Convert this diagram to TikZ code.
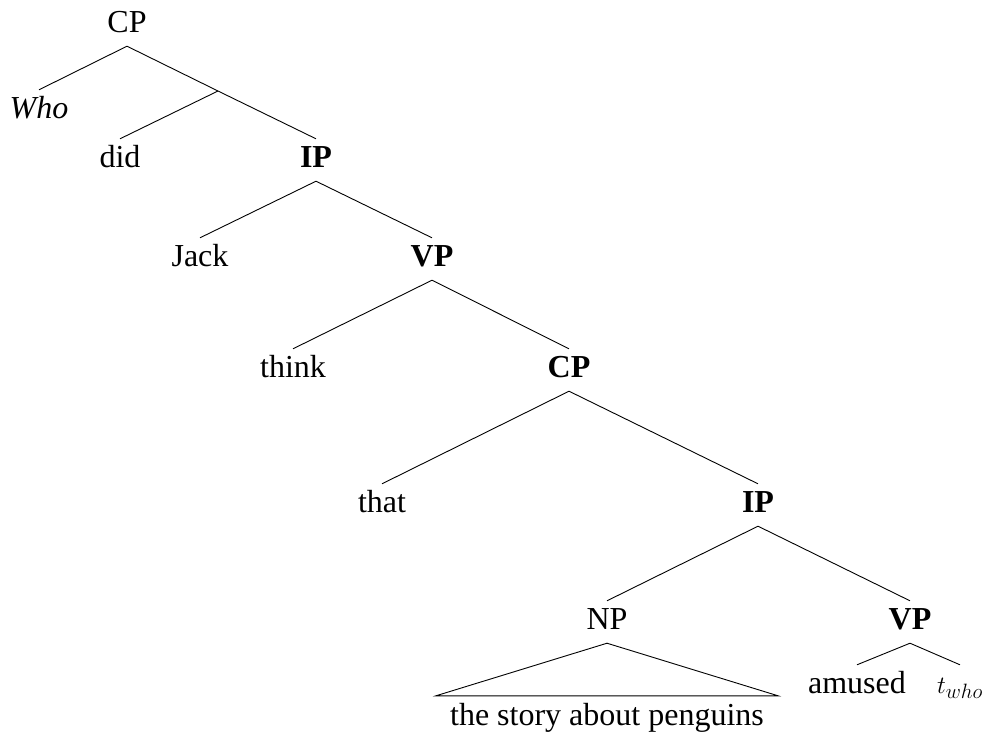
\documentclass[tikz,border=0pt]{standalone}
\usepackage{fontspec}
\setmainfont{Liberation Serif}
\begin{document}
\begin{tikzpicture}[x=1pt,y=-1pt,
  lbl/.style={anchor=base,font=\fontsize{32}{36}\selectfont,text height=18pt,text depth=4pt,inner ysep=10pt,inner xsep=0pt},
  blbl/.style={lbl,font=\fontsize{32}{36}\selectfont\bfseries},
  edge/.style={line width=0.9pt}]
\useasboundingbox (0,0) rectangle (989,734);
\node[lbl] (cp1) at (127,32) {CP};
\node[lbl] (who) at (39,118) {\itshape Who};
\coordinate (cbar) at (218,91);
\node[lbl] (did) at (120,167) {did};
\node[blbl] (ip1) at (316,167) {IP};
\node[lbl] (jack) at (200,266) {Jack};
\node[blbl] (vp1) at (432,266) {VP};
\node[lbl] (think) at (293,377) {think};
\node[blbl] (cp2) at (569,377) {CP};
\node[lbl] (that) at (382,512) {that};
\node[blbl] (ip2) at (758,512) {IP};
\node[lbl] (np) at (607,629) {NP};
\node[blbl] (vp2) at (910,629) {VP};
\node[lbl,inner xsep=14pt,text height=19pt] (pen) at (607,725) {the story about penguins};
\node[lbl] (amused) at (857,693) {amused};
\node[lbl] (twho) at (960,693) {$t_{who}$};
\draw[edge] (cp1.south) -- (who.north);
\draw[edge] (cp1.south) -- (cbar) -- (ip1.north);
\draw[edge] (cbar) -- (did.north);
\draw[edge] (ip1.south) -- (jack.north);
\draw[edge] (ip1.south) -- (vp1.north);
\draw[edge] (vp1.south) -- (think.north);
\draw[edge] (vp1.south) -- (cp2.north);
\draw[edge] (cp2.south) -- (that.north);
\draw[edge] (cp2.south) -- (ip2.north);
\draw[edge] (ip2.south) -- (np.north);
\draw[edge] (ip2.south) -- (vp2.north);
\draw[edge] (np.south) -- (pen.north west) -- (pen.north east) -- cycle;
\draw[edge] (vp2.south) -- (amused.north);
\draw[edge] (vp2.south) -- (twho.north);
\end{tikzpicture}
\end{document}
